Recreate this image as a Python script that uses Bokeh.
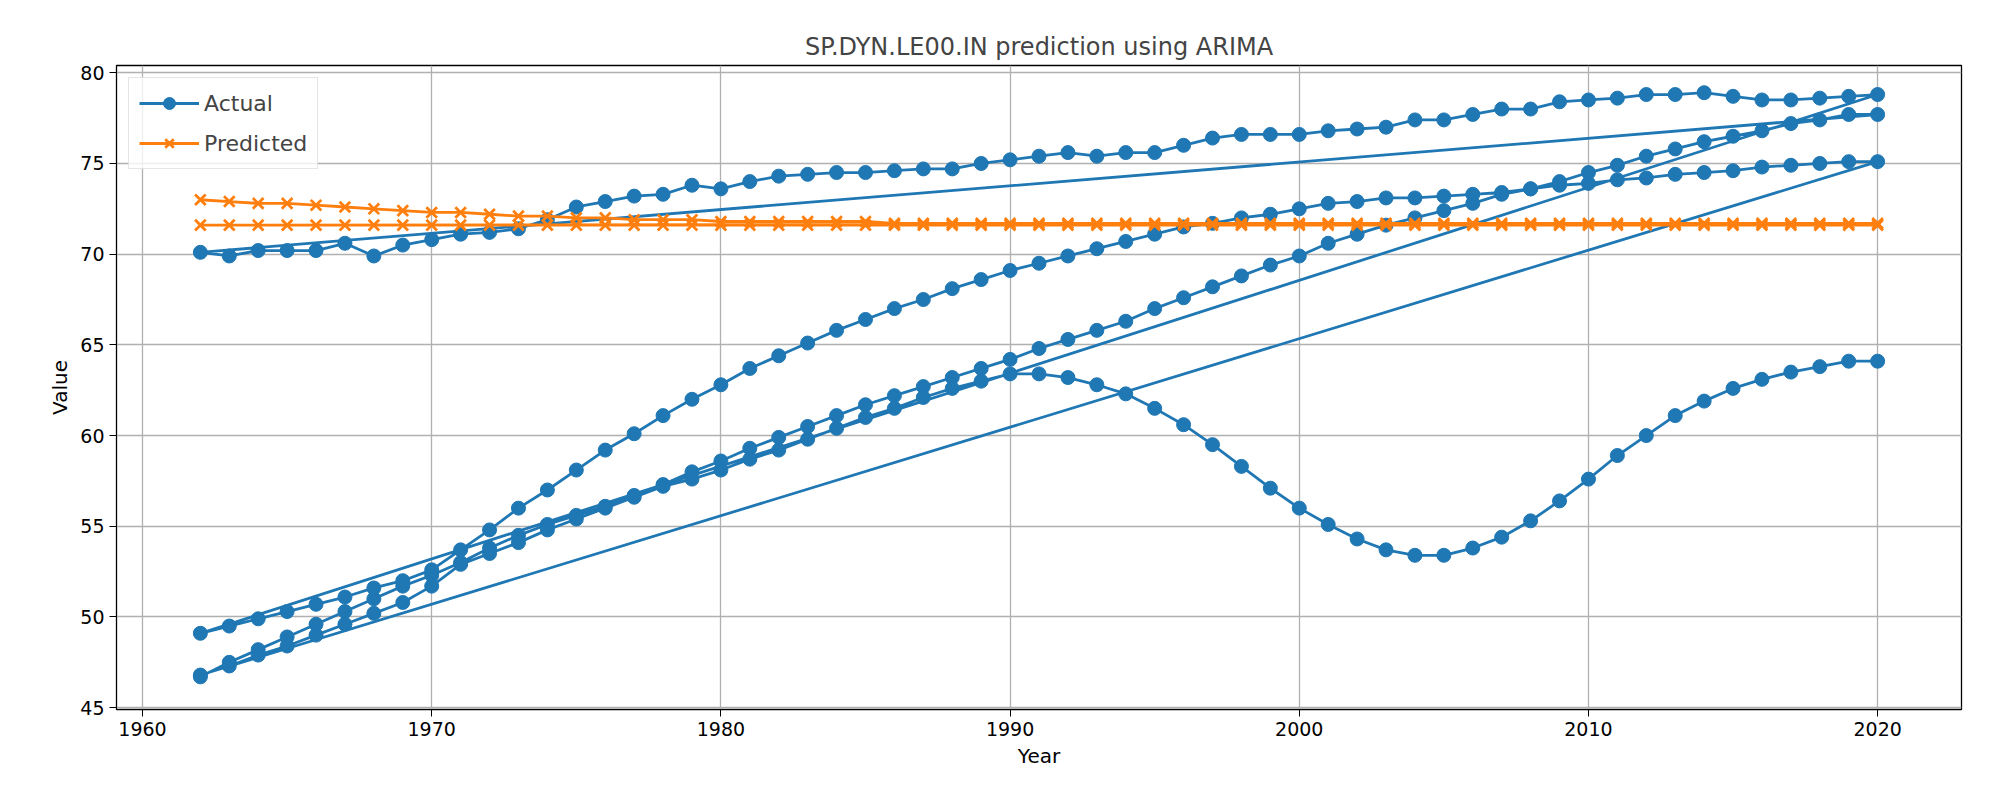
from bokeh.plotting import figure
from bokeh.models import ColumnDataSource, Range1d, SingleIntervalTicker, Legend, LegendItem
from bokeh.embed import file_html
from bokeh.resources import INLINE

years = list(range(1962, 2021))

# actual series (several countries, stacked one after another)
country_c = [46.7, 47.5, 48.2, 48.9, 49.6, 50.3, 51.0, 51.7, 52.3, 53.0,
             53.8, 54.5, 55.1, 55.6, 56.1, 56.7, 57.3, 58.0, 58.6,
             59.3, 59.9, 60.5, 61.1, 61.7, 62.2, 62.7, 63.2, 63.7, 64.2,
             64.8, 65.3, 65.8, 66.3, 67.0, 67.6, 68.2, 68.8, 69.4, 69.9,
             70.6, 71.1, 71.6, 72.0, 72.4, 72.8, 73.3, 73.6, 74.0, 74.5,
             74.9, 75.4, 75.8, 76.2, 76.5, 76.8, 77.2, 77.4, 77.7, 77.7]
country_top = [70.1, 69.9, 70.2, 70.2, 70.2, 70.6, 69.9, 70.5, 70.8,
               71.1, 71.2, 71.4, 71.9, 72.6, 72.9, 73.2, 73.3, 73.8, 73.6,
               74.0, 74.3, 74.4, 74.5, 74.5, 74.6, 74.7, 74.7, 75.0, 75.2,
               75.4, 75.6, 75.4, 75.6, 75.6, 76.0, 76.4, 76.6, 76.6, 76.6,
               76.8, 76.9, 77.0, 77.4, 77.4, 77.7, 78.0, 78.0, 78.4, 78.5,
               78.6, 78.8, 78.8, 78.9, 78.7, 78.5, 78.5, 78.6, 78.7, 78.8]
country_b = [49.1, 49.5, 49.9, 50.3, 50.7, 51.1, 51.6, 52.0, 52.6,
             53.7, 54.8, 56.0, 57.0, 58.1, 59.2, 60.1, 61.1, 62.0, 62.8,
             63.7, 64.4, 65.1, 65.8, 66.4, 67.0, 67.5, 68.1, 68.6, 69.1,
             69.5, 69.9, 70.3, 70.7, 71.1, 71.5, 71.7, 72.0, 72.2, 72.5,
             72.8, 72.9, 73.1, 73.1, 73.2, 73.3, 73.4, 73.6, 73.8, 73.9,
             74.1, 74.2, 74.4, 74.5, 74.6, 74.8, 74.9, 75.0, 75.1, 75.1]
country_e = [46.8, 47.3, 47.9, 48.4, 49.0, 49.6, 50.2, 50.8, 51.7,
             52.9, 53.5, 54.1, 54.8, 55.4, 56.0, 56.6, 57.2, 57.6, 58.1,
             58.7, 59.2, 59.8, 60.4, 61.0, 61.5, 62.1, 62.6, 63.0, 63.4,
             63.4, 63.2, 62.8, 62.3, 61.5, 60.6, 59.5, 58.3, 57.1, 56.0,
             55.1, 54.3, 53.7, 53.4, 53.4, 53.8, 54.4, 55.3, 56.4, 57.6,
             58.9, 60.0, 61.1, 61.9, 62.6, 63.1, 63.5, 63.8, 64.1, 64.1]

# ARIMA predictions
pred_1 = [73.0, 72.9, 72.8, 72.8, 72.7, 72.6, 72.5, 72.4, 72.3, 72.3,
          72.2, 72.1, 72.1, 72.0, 72.0, 71.9, 71.9, 71.9, 71.8,
          71.8, 71.8, 71.8, 71.8, 71.8, 71.7, 71.7, 71.7, 71.7, 71.7,
          71.7, 71.7, 71.7, 71.7, 71.7, 71.7, 71.7, 71.7, 71.7, 71.7,
          71.7, 71.7, 71.7, 71.7, 71.7, 71.7, 71.7, 71.7, 71.7, 71.7,
          71.7, 71.7, 71.7, 71.7, 71.7, 71.7, 71.7, 71.7, 71.7, 71.7]
pred_2 = [71.6] * 59

actual = country_c + country_top + country_b + country_e
actual_years = years * 4
predicted = pred_1 + pred_2
predicted_years = years * 2

BLUE = "#1f77b4"
ORANGE = "#ff7f0e"

p = figure(width=1984, height=784, output_backend="svg", toolbar_location=None,
           min_border_left=116, min_border_right=23, min_border_top=65,
           min_border_bottom=75)
p.x_range = Range1d(1959.1, 2022.9)
p.y_range = Range1d(44.9, 80.4)
p.title.text = "SP.DYN.LE00.IN prediction using ARIMA"
p.title.align = "center"
p.title.text_font = "DejaVu Sans"
p.title.text_font_size = "24px"
p.title.text_font_style = "normal"

src_a = ColumnDataSource(dict(x=actual_years, y=actual))
src_p = ColumnDataSource(dict(x=predicted_years, y=predicted))
la = p.line("x", "y", source=src_a, color=BLUE, line_width=2.8)
ma = p.scatter("x", "y", source=src_a, marker="circle", size=14, color=BLUE)
lp = p.line("x", "y", source=src_p, color=ORANGE, line_width=2.8)
mp = p.scatter("x", "y", source=src_p, marker="x", size=15, color=ORANGE, line_width=2.8)

legend = Legend(items=[LegendItem(label="Actual", renderers=[la, ma]),
                       LegendItem(label="Predicted", renderers=[lp, mp])],
                location="top_left", label_text_font="DejaVu Sans",
                label_text_font_size="22px", border_line_color="#cccccc",
                border_line_width=1.5, background_fill_alpha=0.8,
                glyph_width=60, glyph_height=30, spacing=10, padding=10, margin=12)
p.add_layout(legend)

p.xaxis.ticker = SingleIntervalTicker(interval=10)
p.yaxis.ticker = SingleIntervalTicker(interval=5)
p.xaxis.axis_label = "Year"
p.yaxis.axis_label = "Value"
for ax in (p.xaxis, p.yaxis):
    ax.axis_label_text_font = "DejaVu Sans"
    ax.axis_label_text_font_style = "normal"
    ax.axis_label_text_font_size = "20px"
    ax.major_label_text_font = "DejaVu Sans"
    ax.major_label_text_font_size = "19px"
    ax.major_label_text_color = "black"
    ax.axis_label_text_color = "black"
    ax.minor_tick_line_color = None
    ax.major_tick_out = 7
    ax.major_tick_in = 0
    ax.axis_line_color = "black"
    ax.major_tick_line_color = "black"
p.grid.grid_line_color = "#b0b0b0"
p.grid.grid_line_width = 1.3
p.outline_line_color = "black"
p.outline_line_width = 1.3

open("out.html", "w").write(file_html(p, INLINE))
